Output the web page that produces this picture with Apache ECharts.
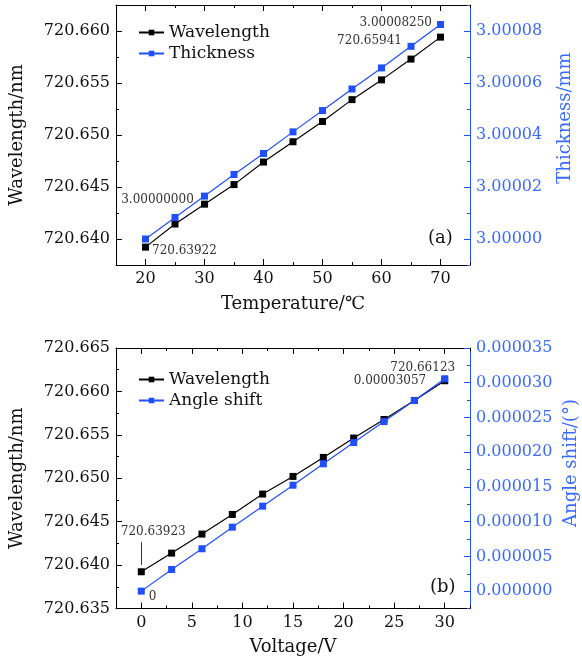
<!DOCTYPE html>
<html><head><meta charset="utf-8">
<script src="https://cdn.jsdelivr.net/npm/echarts@6/dist/echarts.min.js"></script>
<style>html,body{margin:0;padding:0;background:#fff}#c{width:582px;height:661px}</style>
</head><body><div id="c"></div>
<script>
// ---- data (a) ----
const temperature = [20, 25, 30, 35, 40, 45, 50, 55, 60, 65, 70];
const wavelengthA = [720.63922, 720.64144, 720.64335, 720.64523, 720.64740, 720.64935, 720.65130, 720.65340, 720.65530, 720.65730, 720.65941];
const thickness = [3.00000000, 3.0000083, 3.0000165, 3.0000248, 3.0000329, 3.0000412, 3.0000494, 3.0000577, 3.0000658, 3.0000741, 3.00008250];
// ---- data (b) ----
const voltage = [0, 3, 6, 9, 12, 15, 18, 21, 24, 27, 30];
const wavelengthB = [720.63923, 720.64138, 720.64357, 720.64583, 720.64818, 720.65021, 720.65240, 720.65463, 720.65677, 720.65896, 720.66123];
const angleShift = [0, 0.00000312, 0.00000610, 0.00000921, 0.00001223, 0.00001525, 0.00001833, 0.00002139, 0.00002441, 0.00002743, 0.00003057];
// ---- tick labels ----
const tempTicks = [20, 30, 40, 50, 60, 70];
const wlTicksA = [720.640, 720.645, 720.650, 720.655, 720.660];
const thickTicks = [3.00000, 3.00002, 3.00004, 3.00006, 3.00008];
const voltTicks = [0, 5, 10, 15, 20, 25, 30];
const wlTicksB = [720.635, 720.640, 720.645, 720.650, 720.655, 720.660, 720.665];
const angleTicks = [0, 0.000005, 0.000010, 0.000015, 0.000020, 0.000025, 0.000030, 0.000035];

const FONT = 'DejaVu Serif';
const BLUE = '#1f4fff';
const BLUE_TXT = '#3a6bff';
const BLACK = '#000';

function axes(gridIndex, pos, min, max, step, majors, fmt, color, labelColor, name, nameGap) {
  const main = {
    type: 'value', gridIndex, position: pos, min, max, interval: step,
    axisLine: {show: true, onZero: false, lineStyle: {color, width: 1}},
    axisTick: {show: true, inside: true, length: 3, lineStyle: {color, width: 1}},
    axisLabel: fmt ? {show: true, customValues: majors, formatter: fmt, color: labelColor, fontFamily: FONT, fontSize: 16, margin: 6} : {show: false},
    splitLine: {show: false}
  };
  if (name) {
    main.name = name; main.nameLocation = 'middle'; main.nameGap = nameGap;
    if (pos === 'left' || pos === 'right') main.nameRotate = 90;
    main.nameTextStyle = {fontFamily: FONT, fontSize: 18, color: labelColor};
  }
  const major = {
    type: 'value', gridIndex, position: pos, min, max, interval: step,
    axisLine: {show: false, onZero: false},
    axisTick: {show: true, inside: true, length: 6, customValues: majors, lineStyle: {color, width: 1}},
    axisLabel: {show: false}, splitLine: {show: false}
  };
  return [main, major];
}

const xAxis = [
  ...axes(0, 'bottom', 15, 75, 5, tempTicks, v => String(v), BLACK, '#111', 'Temperature/℃', 30),
  ...axes(0, 'top', 15, 75, 5, tempTicks, null, BLACK, '#111'),
  ...axes(1, 'bottom', -2.5, 32.5, 2.5, voltTicks, v => String(v), BLACK, '#111', 'Voltage/V', 30),
  ...axes(1, 'top', -2.5, 32.5, 2.5, voltTicks, null, BLACK, '#111')
];
const yAxis = [
  ...axes(0, 'left', 720.6375, 720.6625, 0.0025, wlTicksA, v => v.toFixed(3), BLACK, '#111', 'Wavelength/nm', 90),
  ...axes(0, 'right', 2.99999, 3.00009, 0.00001, thickTicks, v => v.toFixed(5), BLUE, BLUE_TXT),
  ...axes(1, 'left', 720.635, 720.665, 0.0025, wlTicksB, v => v.toFixed(3), BLACK, '#111', 'Wavelength/nm', 90),
  ...axes(1, 'right', -0.0000025, 0.000035, 0.0000025, angleTicks, v => v.toFixed(6), BLUE, BLUE_TXT)
];

const annTxt = {fontFamily: FONT, fontSize: 12, color: '#333'};
function pts(xs, ys, labels) {
  return xs.map((x, i) => {
    const item = {value: [x, ys[i]]};
    if (labels[i]) item.label = Object.assign({show: true}, annTxt, labels[i]);
    return item;
  });
}
const lastA = temperature.length - 1, lastB = voltage.length - 1;

const series = [
  {type: 'line', name: 'Wavelength', xAxisIndex: 0, yAxisIndex: 0, symbol: 'rect', symbolSize: 7,
   color: BLACK, lineStyle: {width: 1.2, color: BLACK}, z: 3,
   data: pts(temperature, wavelengthA, {
     0: {position: 'right', distance: 3, offset: [0, 4], formatter: () => wavelengthA[0].toFixed(5)},
     [lastA]: {position: 'left', distance: 35, offset: [0, 4], formatter: () => wavelengthA[lastA].toFixed(5)}
   })},
  {type: 'line', name: 'Thickness', xAxisIndex: 0, yAxisIndex: 2, symbol: 'rect', symbolSize: 7,
   color: BLUE, lineStyle: {width: 1.2, color: BLUE}, z: 3,
   data: pts(temperature, thickness, {
     0: {position: 'top', distance: 30, offset: [12, 0], formatter: () => thickness[0].toFixed(8)},
     [lastA]: {position: 'left', distance: 5, offset: [0, -2], formatter: () => thickness[lastA].toFixed(8)}
   })},
  {type: 'line', name: 'Wavelength', xAxisIndex: 4, yAxisIndex: 4, symbol: 'rect', symbolSize: 7,
   color: BLACK, lineStyle: {width: 1.2, color: BLACK}, z: 3,
   markLine: {
     silent: true, symbol: 'none', label: {show: false},
     lineStyle: {color: '#333', width: 1, type: 'solid'},
     data: [[{coord: [voltage[0], wavelengthB[0] + 0.0008]}, {coord: [voltage[0], wavelengthB[0] + 0.0034]}]]
   },
   data: pts(voltage, wavelengthB, {
     0: {position: 'top', distance: 30, offset: [12, 0], formatter: () => wavelengthB[0].toFixed(5)},
     [lastB]: {position: 'top', distance: 3, offset: [-22, 0], formatter: () => wavelengthB[lastB].toFixed(5)}
   })},
  {type: 'line', name: 'Angle shift', xAxisIndex: 4, yAxisIndex: 6, symbol: 'rect', symbolSize: 7,
   color: BLUE, lineStyle: {width: 1.2, color: BLUE}, z: 4,
   data: pts(voltage, angleShift, {
     0: {position: 'right', distance: 4, offset: [0, 6], formatter: () => String(angleShift[0])},
     [lastB]: {position: 'left', distance: 15, offset: [0, 2], formatter: () => angleShift[lastB].toFixed(8)}
   })}
];

const legendBase = {orient: 'vertical', itemWidth: 25, itemHeight: 7, itemGap: 4,
  textStyle: {fontFamily: FONT, fontSize: 17, color: '#111'}};

const titleTxt = {fontFamily: FONT, fontSize: 18, fill: BLUE_TXT, align: 'center', verticalAlign: 'middle'};
const option = {
  animation: false,
  backgroundColor: '#fff',
  grid: [
    {left: 116, right: 112, top: 5, height: 260},
    {left: 116, right: 112, top: 348, height: 260.5}
  ],
  xAxis, yAxis, series,
  legend: [
    Object.assign({}, legendBase, {left: 133, top: 19, data: ['Wavelength', 'Thickness']}),
    Object.assign({}, legendBase, {left: 133, top: 366, data: ['Wavelength', 'Angle shift']})
  ],
  graphic: [
    {type: 'text', left: 428, top: 229, style: {text: '(a)', fontFamily: FONT, fontSize: 18, fill: '#111'}},
    {type: 'text', left: 430, top: 578, style: {text: '(b)', fontFamily: FONT, fontSize: 18, fill: '#111'}},
    {type: 'text', x: 565, y: 118, rotation: Math.PI / 2, style: Object.assign({text: 'Thickness/mm'}, titleTxt)},
    {type: 'text', x: 571, y: 463, rotation: Math.PI / 2, style: Object.assign({text: 'Angle shift/(°)'}, titleTxt)}
  ]
};
const chart = echarts.init(document.getElementById('c'), null, {renderer: 'canvas'});
chart.setOption(option);
</script></body></html>
